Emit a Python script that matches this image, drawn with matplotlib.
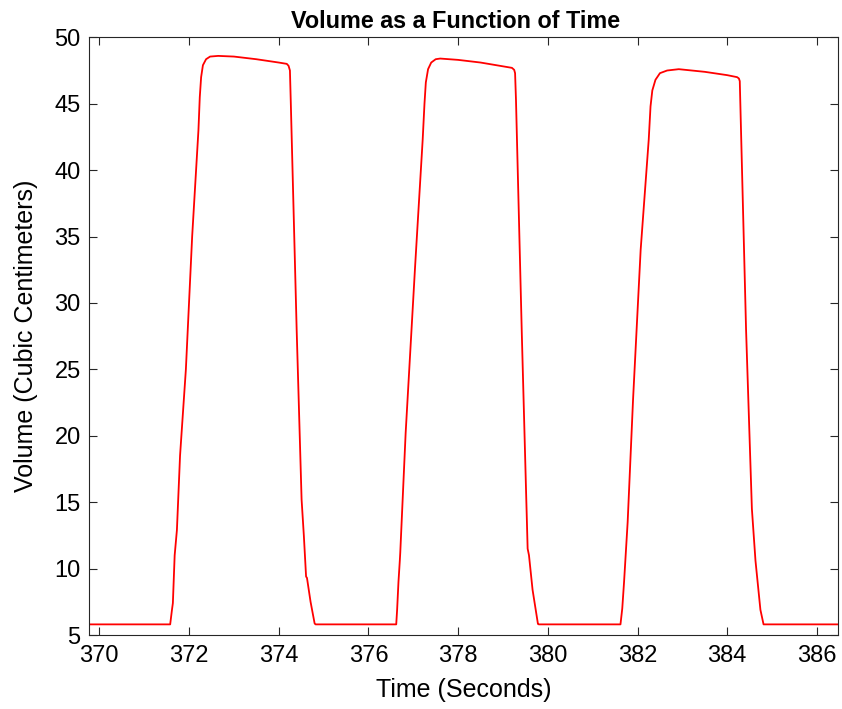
import matplotlib
matplotlib.use("Agg")
import matplotlib.pyplot as plt
import numpy as np

plt.rcParams['font.family'] = ['Liberation Sans', 'DejaVu Sans']

# Time (s) and volume (cc) samples
time_s = [
    369.5, 371.58, 371.62, 371.64, 371.68, 371.73, 371.80, 371.93, 372.07, 372.21,
    372.24, 372.27, 372.31, 372.38, 372.47, 372.65, 373.0, 373.5, 374.0, 374.18,
    374.22, 374.25, 374.27, 374.40, 374.51, 374.56, 374.61, 374.63, 374.71, 374.80,
    374.82,
    376.62, 376.64, 376.67, 376.70, 376.71, 376.83, 377.04, 377.21, 377.25, 377.28,
    377.33, 377.40, 377.50, 377.60, 378.0, 378.5, 379.2, 379.25, 379.27, 379.29,
    379.42, 379.52, 379.53, 379.55, 379.58, 379.66, 379.78, 379.80,
    381.62, 381.66, 381.70, 381.78, 381.90, 382.07, 382.25, 382.29, 382.33, 382.40,
    382.50, 382.66, 382.92, 383.5, 384.0, 384.22, 384.26, 384.28, 384.30, 384.42,
    384.55, 384.63, 384.74, 384.81, 386.8,
]
volume_cc = [
    5.8, 5.8, 6.9, 7.4, 11.0, 12.9, 18.5, 25.0, 35.0, 43.0,
    45.5, 47.0, 47.9, 48.35, 48.55, 48.6, 48.55, 48.35, 48.1, 48.0,
    47.85, 47.5, 45.0, 28.0, 15.2, 12.5, 9.4, 9.3, 7.5, 5.88,
    5.8,
    5.8, 6.9, 9.0, 10.6, 11.2, 20.2, 32.7, 42.3, 45.0, 46.6,
    47.6, 48.1, 48.35, 48.4, 48.3, 48.1, 47.7, 47.55, 47.3, 45.3,
    27.7, 15.2, 14.0, 11.5, 11.0, 8.4, 5.83, 5.8,
    5.8, 7.0, 9.0, 13.5, 22.7, 34.0, 42.3, 44.8, 46.0, 46.8,
    47.3, 47.5, 47.6, 47.4, 47.15, 47.0, 46.9, 46.7, 44.0, 28.0,
    14.5, 10.6, 6.9, 5.8, 5.8,
]

x_ticks = [370, 372, 374, 376, 378, 380, 382, 384, 386]
y_ticks = [5, 10, 15, 20, 25, 30, 35, 40, 45, 50]

fig = plt.figure(figsize=(8.42, 7.09), dpi=100)
ax = fig.add_axes([89 / 842, 74 / 709, 749 / 842, 597.7 / 709])

ax.plot(time_s, volume_cc, color=(1, 0, 0), linewidth=1.3,
        solid_joinstyle='round')

ax.set_xlim(369.77, 386.47)
ax.set_ylim(5, 50)
ax.set_xticks(x_ticks)
ax.set_yticks(y_ticks)

axis_col = (0.15, 0.15, 0.15)
for s in ax.spines.values():
    s.set_color(axis_col)
    s.set_linewidth(0.8)
ax.tick_params(direction='in', length=6, width=0.8, colors=axis_col,
               labelsize=17, top=True, right=True, labelcolor='black')
ax.tick_params(axis='x', pad=7)
ax.tick_params(axis='y', pad=6)

ax.set_xlabel('Time (Seconds)', fontsize=18, labelpad=8)
ax.set_ylabel('Volume (Cubic Centimeters)', fontsize=18, labelpad=12)
fig.text(456 / 842, 1 - 28 / 709, 'Volume as a Function of Time',
         fontsize=16.8, fontweight='bold', ha='center', va='baseline')

fig.savefig('out.png', dpi=100, facecolor='white')
